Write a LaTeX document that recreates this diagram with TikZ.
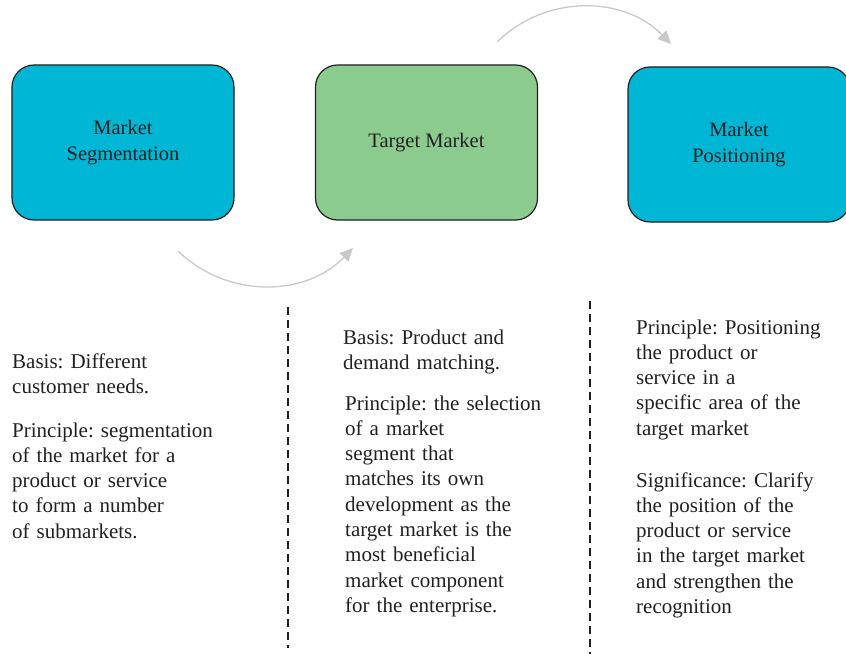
\documentclass[tikz,border=0pt]{standalone}
\usepackage{fontspec}
\setmainfont{Liberation Serif}
\usepackage{tikz}
\usetikzlibrary{arrows.meta}
\definecolor{segcyan}{RGB}{0,182,213}
\definecolor{tgtgreen}{RGB}{139,204,142}
\definecolor{inkgray}{RGB}{35,31,32}
\definecolor{arrowgray}{RGB}{200,201,204}
\tikzstyle{stage}=[rectangle, rounded corners=22bp, draw=inkgray, line width=1.2bp, minimum width=222bp, minimum height=155bp, inner sep=0pt, align=center, text=inkgray, font=\fontsize{20.5bp}{25.3bp}\selectfont]
\tikzstyle{note}=[anchor=base west, inner sep=0pt, text width=240bp, align=left, text=inkgray, font=\fontsize{21bp}{25.3bp}\selectfont]
\tikzstyle{flow}=[draw=arrowgray, line width=1.3bp, -{Triangle[length=13bp, width=12bp]}]
\tikzstyle{divider}=[draw=inkgray, line width=1.3bp, dash pattern=on 8bp off 5bp]

\begin{document}
\frenchspacing
\begin{tikzpicture}[x=1bp, y=-1bp]
                \useasboundingbox (0,0) rectangle (846,654);
                \node[stage, fill=segcyan] (seg) at (123,142.5) {Market\\Segmentation};
                \node[stage, fill=tgtgreen] (tgt) at (426.5,142.5) {Target Market};
                \node[stage, fill=segcyan] (pos) at (739,144.5) {Market\\Positioning};
                \coordinate (s1) at (178,251);
                \coordinate (e1) at (353,248);
                \coordinate (s2) at (497,42);
                \coordinate (e2) at (671,44);
                \draw[flow] (s1) to[bend right=45] (e1);
                \draw[flow] (s2) to[bend left=45] (e2);
                \coordinate (d1) at (288,307);
                \coordinate (d1e) at (288,648);
                \coordinate (d2) at (590,301);
                \coordinate (d2e) at (590,654);
                \draw[divider] (d1)--(d1e) (d2)--(d2e);
                \node[note] (segbasis) at (12,368) {Basis: Different\\customer needs.};
                \node[note] (segrule) at (12,437) {Principle: segmentation\\of the market for a\\product or service\\to form a number\\of submarkets.};
                \node[note] (tgtbasis) at (343,344) {Basis: Product and\\demand matching.};
                \node[note] (tgtrule) at (345,410) {Principle: the selection\\of a market\\segment that\\matches its own\\development as the\\target market is the\\most beneficial\\market component\\for the enterprise.};
                \node[note] (posrule) at (636,334) {Principle: Positioning\\the product or\\service in a\\specific area of the\\target market};
                \node[note] (possig) at (636,487) {Significance: Clarify\\the position of the\\product or service\\in the target market\\and strengthen the\\recognition};
            \end{tikzpicture}
\end{document}
